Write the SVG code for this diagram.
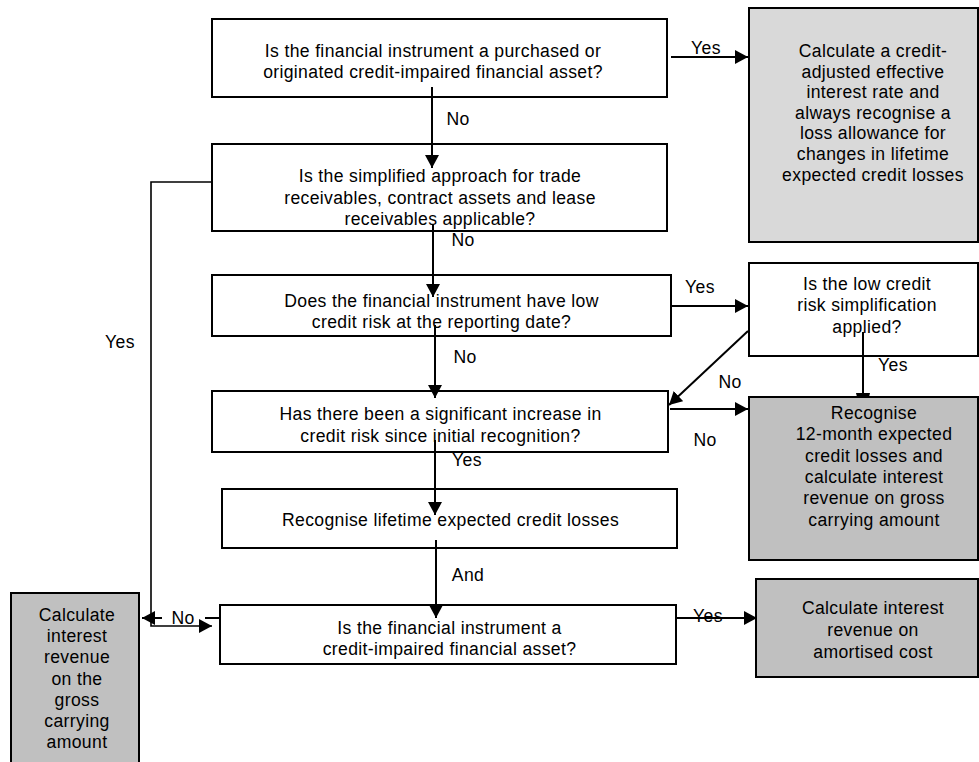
<svg xmlns="http://www.w3.org/2000/svg" width="979" height="762" viewBox="0 0 979 762">
<style>
.bx{fill:#fff;stroke:#000;stroke-width:2}
.g1{fill:#d9d9d9;stroke:#000;stroke-width:2}
.g2{fill:#c0c0c0;stroke:#000;stroke-width:2}
text{font-family:"Liberation Sans",Arial,sans-serif;font-size:17.6px;letter-spacing:0.35px;fill:#000;text-anchor:middle}
.c line,.c polyline{stroke:#000;stroke-width:2;fill:none}
.c .thin{stroke-width:1.6}
</style>
<defs>
<marker id="ah" markerUnits="userSpaceOnUse" markerWidth="14" markerHeight="15" refX="13" refY="7" orient="auto" viewBox="0 0 14 15">
<path d="M0,0 L13,7 L0,14 z" fill="#000"/>
</marker>
</defs>
<rect width="979" height="762" fill="#fff"/>

<g id="n1"><rect class="bx" x="212" y="19" width="455" height="78"/>
<text x="433" y="57">Is the financial instrument a purchased or</text>
<text x="433" y="78">originated credit-impaired financial asset?</text></g>

<g id="n_poci"><rect class="g1" x="749" y="8" width="229" height="234"/>
<text x="873" y="57">Calculate a credit-</text>
<text x="873" y="78">adjusted effective</text>
<text x="873" y="98">interest rate and</text>
<text x="873" y="119">always recognise a</text>
<text x="873" y="139">loss allowance for</text>
<text x="873" y="160">changes in lifetime</text>
<text x="873" y="181">expected credit losses</text></g>

<g id="n2"><rect class="bx" x="212" y="144" width="455" height="87"/>
<text x="440" y="182">Is the simplified approach for trade</text>
<text x="440" y="203.5">receivables, contract assets and lease</text>
<text x="440" y="225">receivables applicable?</text></g>

<g id="n3"><rect class="bx" x="212" y="275" width="459" height="61"/>
<text x="441.5" y="307">Does the financial instrument have low</text>
<text x="441.5" y="328">credit risk at the reporting date?</text></g>

<g id="n_lcr"><rect class="bx" x="749" y="263" width="229" height="93"/>
<text x="867" y="290">Is the low credit</text>
<text x="867" y="311">risk simplification</text>
<text x="867" y="333">applied?</text></g>

<g id="n4"><rect class="bx" x="212" y="391" width="456" height="61"/>
<text x="440.5" y="420">Has there been a significant increase in</text>
<text x="440.5" y="441.5">credit risk since initial recognition?</text></g>

<g id="n_12m"><rect class="g2" x="749" y="397" width="229" height="163"/>
<text x="874" y="419">Recognise</text>
<text x="874" y="440">12-month expected</text>
<text x="874" y="462">credit losses and</text>
<text x="874" y="483">calculate interest</text>
<text x="874" y="504">revenue on gross</text>
<text x="874" y="526">carrying amount</text></g>

<g id="n5"><rect class="bx" x="222" y="489" width="455" height="59"/>
<text x="450.5" y="526">Recognise lifetime expected credit losses</text></g>

<g id="n6"><rect class="bx" x="220" y="605" width="456" height="59"/>
<text x="449.5" y="634">Is the financial instrument a</text>
<text x="449.5" y="655">credit-impaired financial asset?</text></g>

<g id="n_amort"><rect class="g2" x="756" y="579" width="222" height="98"/>
<text x="873" y="614">Calculate interest</text>
<text x="873" y="636">revenue on</text>
<text x="873" y="658">amortised cost</text></g>

<g id="n_gross"><rect class="g2" x="11" y="593" width="128" height="180"/>
<text x="77" y="621">Calculate</text>
<text x="77" y="642">interest</text>
<text x="77" y="663">revenue</text>
<text x="77" y="685">on the</text>
<text x="77" y="706">gross</text>
<text x="77" y="727">carrying</text>
<text x="77" y="748">amount</text></g>

<g id="connectors" class="c">
<line x1="671" y1="57" x2="748" y2="57" marker-end="url(#ah)"/>
<text x="706" y="54">Yes</text>

<line x1="432" y1="87" x2="432" y2="168" marker-end="url(#ah)"/>
<text x="458" y="125">No</text>

<line x1="433" y1="224" x2="433" y2="297" marker-end="url(#ah)"/>
<text x="463" y="246">No</text>

<line x1="670" y1="306" x2="748" y2="306" marker-end="url(#ah)"/>
<text x="700" y="293">Yes</text>

<line x1="435" y1="325" x2="435" y2="398" marker-end="url(#ah)"/>
<text x="465" y="363">No</text>

<line x1="748" y1="331" x2="669" y2="405" marker-end="url(#ah)"/>
<text x="730" y="388">No</text>

<line x1="863" y1="332" x2="863" y2="394"/>
<polygon points="856,393 870,393 869,397 857,397" fill="#000"/>
<text x="893" y="371">Yes</text>

<line x1="670" y1="409" x2="748" y2="409" marker-end="url(#ah)"/>
<text x="705" y="446">No</text>

<line x1="435" y1="440" x2="435" y2="515" marker-end="url(#ah)"/>
<text x="467" y="466">Yes</text>

<line x1="436" y1="540" x2="436" y2="618" marker-end="url(#ah)"/>
<text x="468" y="581">And</text>

<line x1="677" y1="618" x2="757" y2="618" marker-end="url(#ah)"/>
<text x="708" y="622">Yes</text>

<polyline class="thin" points="212,182 151,182 151,626 212,626" marker-end="url(#ah)"/>
<text x="120" y="348">Yes</text>

<line x1="220" y1="618" x2="205" y2="618"/>
<line x1="162" y1="618" x2="142" y2="618" marker-end="url(#ah)"/>
<text x="183" y="624">No</text>
</g>
</svg>
